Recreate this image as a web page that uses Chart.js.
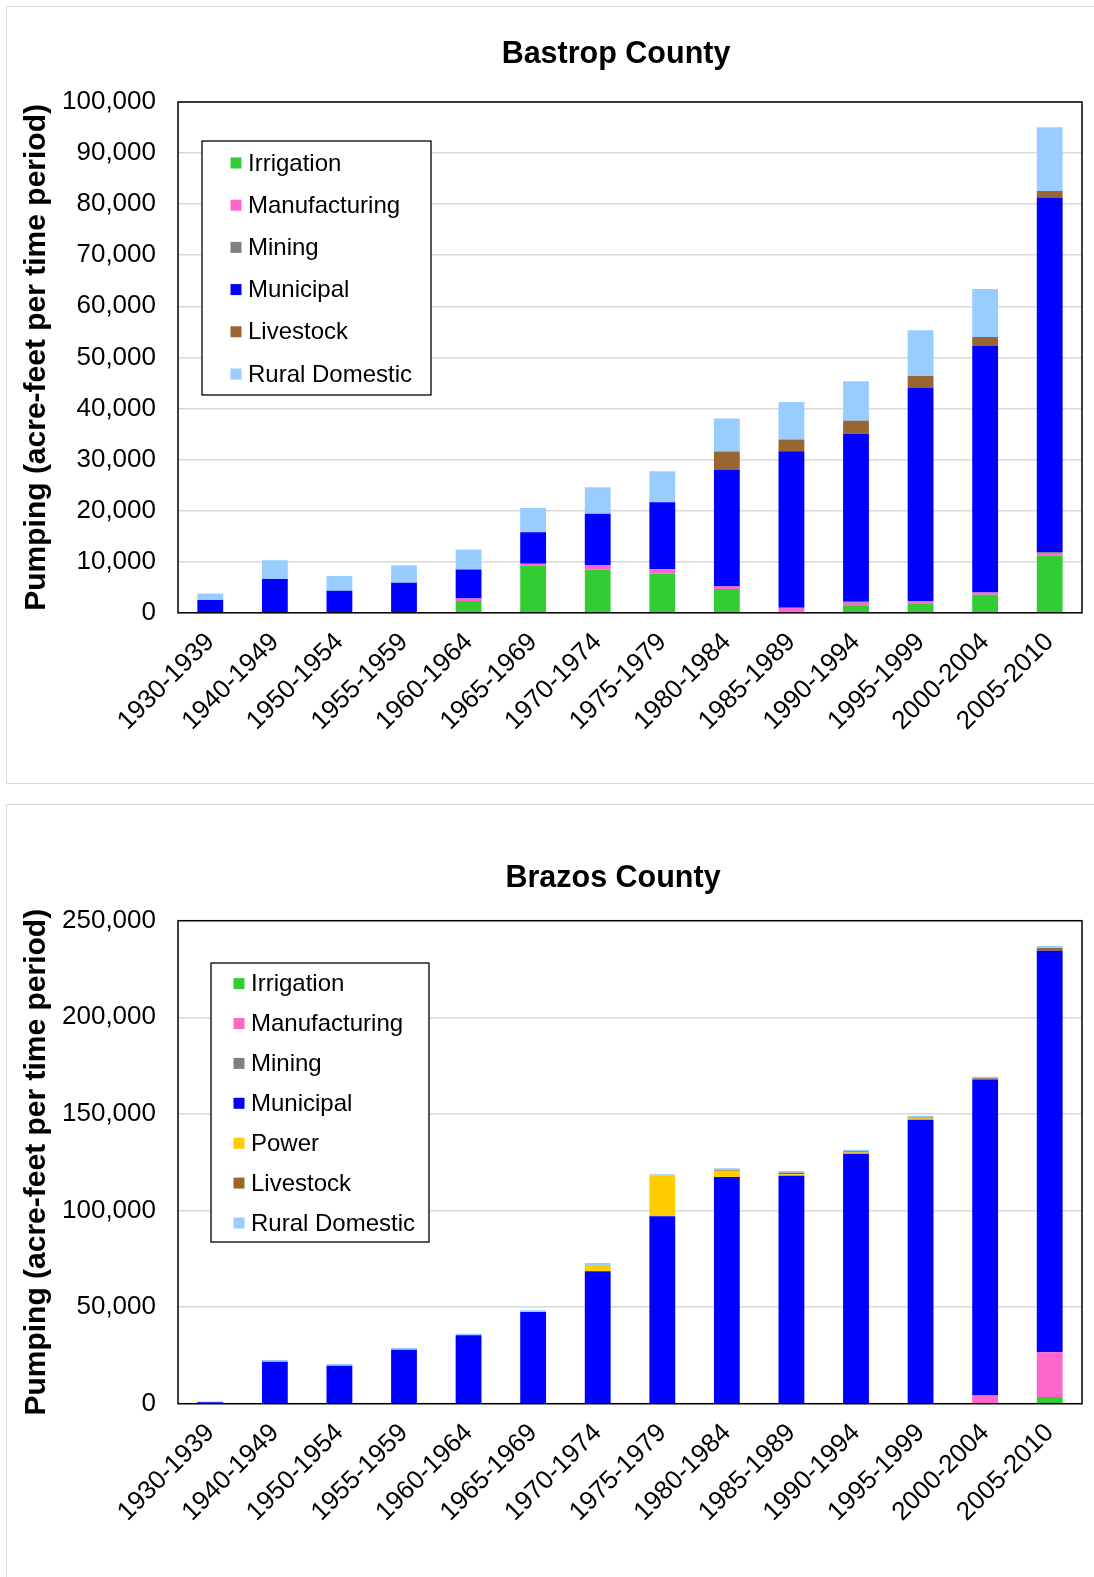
<!DOCTYPE html>
<html><head><meta charset="utf-8">
<script src="https://cdn.jsdelivr.net/npm/chart.js@4.4.0/dist/chart.umd.min.js"></script>
<style>
html,body{margin:0;padding:0;background:#fff;overflow:hidden;width:1094px;height:1577px;}
.box{position:absolute;border:1px solid #d9d9d9;background:#fff;}
#b1{left:6px;top:6px;width:1100px;height:776px;}
#b2{left:6px;top:804px;width:1100px;height:800px;}
canvas{position:absolute;left:0;}
#c1{top:0px;}
#c2{top:800px;}
</style></head><body>
<div class="box" id="b1"></div><div class="box" id="b2"></div>
<canvas id="c1" width="1094" height="790"></canvas>
<canvas id="c2" width="1094" height="777"></canvas>
<script>
const periods = ['1930-1939','1940-1949','1950-1954','1955-1959','1960-1964','1965-1969','1970-1974','1975-1979','1980-1984','1985-1989','1990-1994','1995-1999','2000-2004','2005-2010'];

// Bastrop County (acre-feet per time period)
const bastropIrrigation    = [0,0,0,0,2300,9200,8500,7700,4650,300,1500,1850,3550,11150];
const bastropManufacturing = [0,0,0,0,500,400,850,850,500,700,450,450,400,550];
const bastropMining        = [0,0,0,0,0,0,0,0,0,0,200,0,0,200];
const bastropMunicipal     = [2500,6600,4300,5900,5700,6150,10050,13100,22800,30650,32900,41800,48300,69400];
const bastropLivestock     = [0,0,0,0,0,0,0,0,3650,2300,2550,2250,1750,1300];
const bastropRural         = [1300,3700,2900,3400,3900,4750,5200,6050,6450,7300,7750,8950,9400,12450];

// Brazos County (acre-feet per time period)
const brazosIrrigation    = [0,0,0,0,0,0,0,0,0,0,0,0,300,3450];
const brazosManufacturing = [0,0,0,0,0,0,0,0,0,0,0,0,4000,23150];
const brazosMining        = [0,0,0,0,0,0,0,0,0,0,0,0,0,0];
const brazosMunicipal     = [800,21700,19700,27950,35400,47450,68500,97000,117300,118000,129400,147000,163200,207900];
const brazosPower         = [0,0,0,0,0,0,3300,21000,3300,700,600,700,0,0];
const brazosLivestock     = [0,0,0,0,0,0,0,0,400,900,700,500,1000,1400];
const brazosRural         = [300,900,850,900,850,900,1000,700,900,900,800,800,700,1000];

const bastropTicks = {max:100000, step:10000};
const brazosTicks = {max:250000, step:50000};

const COLORS = {
  Irrigation:'#33cc33', Manufacturing:'#ff66cc', Mining:'#808080', Municipal:'#0000ff',
  Power:'#ffcc00', Livestock:'#996633', 'Rural Domestic':'#99ccff'
};
const FONT = "'Liberation Sans', Arial, sans-serif";

function ds(label, data){
  return {label, data, backgroundColor: COLORS[label], borderWidth:0, barPercentage:0.4, categoryPercentage:1.0};
}

const insidePlugin = {
  id:'insideDecor',
  afterDraw(chart){
    const o = chart.options.plugins.insideDecor;
    const ctx = chart.ctx;
    const a = chart.chartArea;
    ctx.save();
    ctx.strokeStyle = '#000'; ctx.lineWidth = 1.5;
    ctx.strokeRect(a.left, a.top, a.right - a.left, a.bottom - a.top);
    const L = o.legend;
    ctx.fillStyle = '#fff';
    ctx.fillRect(L.x, L.y, L.w, L.h);
    ctx.strokeStyle = '#000'; ctx.lineWidth = 1.3;
    ctx.strokeRect(L.x, L.y, L.w, L.h);
    ctx.font = '24px ' + FONT;
    ctx.textBaseline = 'middle';
    ctx.textAlign = 'left';
    chart.data.datasets.forEach((d, i) => {
      const cy = L.firstY + i * L.step;
      ctx.fillStyle = d.backgroundColor;
      ctx.fillRect(L.markerX - 5.5, cy - 5.5, 11, 11);
      ctx.fillStyle = '#000';
      ctx.fillText(d.label, L.textX, cy + 1);
    });
    ctx.font = 'bold 30.5px ' + FONT;
    ctx.textAlign = 'center';
    ctx.fillStyle = '#000';
    ctx.fillText(o.title.text, o.title.x, o.title.y);
    ctx.restore();
  }
};

function makeChart(id, datasets, ticks, cfg){
  const H = cfg.height;
  return new Chart(document.getElementById(id), {
    type:'bar',
    data:{labels: periods, datasets},
    plugins:[insidePlugin],
    options:{
      responsive:false, animation:false,
      layout:{padding:{top:cfg.top, left:10, right:12, bottom:0}},
      plugins:{
        legend:{display:false}, title:{display:false}, tooltip:{enabled:false},
        insideDecor:{legend:cfg.legend, title:cfg.title}
      },
      scales:{
        x:{
          stacked:true,
          grid:{display:false, drawTicks:false},
          border:{display:false},
          ticks:{color:'#000', font:{family:FONT, size:26}, minRotation:45, maxRotation:45, autoSkip:false, padding:cfg.xpad},
          afterFit(s){ s.height = H - cfg.bottom; s.paddingLeft = 0; s.paddingRight = 0; }
        },
        y:{
          stacked:true, min:0, max:ticks.max,
          grid:{color:'#d9d9d9', lineWidth:1.5, drawTicks:false},
          border:{display:false},
          ticks:{stepSize:ticks.step, color:'#000', font:{family:FONT, size:26}, padding:22,
            callback:(v)=>Number(v).toLocaleString('en-US')},
          title:{display:true, text:'Pumping (acre-feet per time period)', color:'#000',
            font:{family:FONT, size:30, weight:'bold'}, padding:{top:9, bottom:0}},
          afterFit(s){ s.width = 168; s.paddingTop = 0; s.paddingBottom = 0; }
        }
      }
    }
  });
}

makeChart('c1', [
  ds('Irrigation', bastropIrrigation),
  ds('Manufacturing', bastropManufacturing),
  ds('Mining', bastropMining),
  ds('Municipal', bastropMunicipal),
  ds('Livestock', bastropLivestock),
  ds('Rural Domestic', bastropRural)
], bastropTicks, {
  height:790, top:102, bottom:612.8, xpad:14,
  legend:{x:202, y:141, w:229, h:254, markerX:236, textX:248, firstY:163, step:42.2},
  title:{text:'Bastrop County', x:616, y:55}
});

makeChart('c2', [
  ds('Irrigation', brazosIrrigation),
  ds('Manufacturing', brazosManufacturing),
  ds('Mining', brazosMining),
  ds('Municipal', brazosMunicipal),
  ds('Power', brazosPower),
  ds('Livestock', brazosLivestock),
  ds('Rural Domestic', brazosRural)
], brazosTicks, {
  height:777, top:120.7, bottom:603.7, xpad:14,
  legend:{x:211, y:163, w:218, h:279, markerX:239, textX:251, firstY:183.6, step:39.9},
  title:{text:'Brazos County', x:613, y:79}
});
</script>
</body></html>
